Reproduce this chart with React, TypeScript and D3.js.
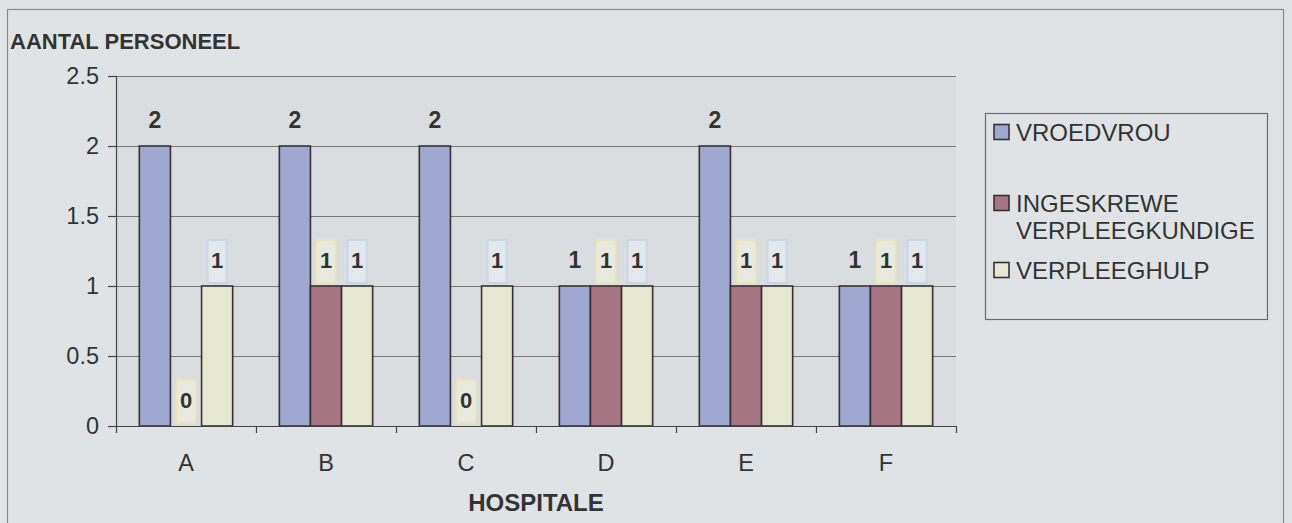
import React from "react";
import * as d3 from "d3";

// Staff per hospital, by staff category
const hospitals = ["A", "B", "C", "D", "E", "F"];
const seriesNames = ["VROEDVROU", "INGESKREWE VERPLEEGKUNDIGE", "VERPLEEGHULP"];
const vroedvrou = [2, 2, 2, 1, 2, 1];
const ingeskrewe = [0, 1, 0, 1, 1, 1];
const verpleeghulp = [1, 1, 1, 1, 1, 1];
const yTicks = [0, 0.5, 1, 1.5, 2, 2.5];
const yTickLabels = ["0", "0.5", "1", "1.5", "2", "2.5"];

const W = 1292;
const H = 523;
const FONT = "'Liberation Sans', Arial, sans-serif";
const TEXT = "#333";

const colors = ["#9ea8d0", "#a67684", "#e6e7d1"];
const labelBoxes = [
  null,
  { fill: "#e8eae0", stroke: "#ece6b4" },
  { fill: "#e4e8ea", stroke: "#c9d7ea" },
];

export default function App() {
  const plot = { left: 116, right: 956, top: 76, bottom: 426 };
  const values = [vroedvrou, ingeskrewe, verpleeghulp];

  const x = d3.scaleBand<string>().domain(hospitals).range([plot.left, plot.right]).padding(0);
  const cw = x.bandwidth();
  const x1 = d3
    .scaleBand<number>()
    .domain([0, 1, 2])
    .range([cw / 6, cw - cw / 6])
    .padding(0);
  const y = d3.scaleLinear().domain([0, 2.5]).range([plot.bottom, plot.top]);

  const legendItems = [
    { lines: ["VROEDVROU"], base: 141 },
    { lines: ["INGESKREWE", "VERPLEEGKUNDIGE"], base: 212 },
    { lines: ["VERPLEEGHULP"], base: 279 },
  ];

  return (
    <div style={{ position: "fixed", left: 0, top: 0, width: W, height: H }}>
      <svg width={W} height={H} style={{ display: "block" }} fontFamily={FONT}>
        <rect x={0} y={0} width={W} height={H} fill="#e0e3e5" />
        {/* outer chart frame */}
        <rect x={7.5} y={9.5} width={1276} height={600} fill="none" stroke="#8a8a8a" strokeWidth={1.2} />

        {/* plot area */}
        <rect
          x={plot.left}
          y={plot.top}
          width={plot.right - plot.left}
          height={plot.bottom - plot.top}
          fill="#dadde0"
        />

        {/* horizontal gridlines */}
        {yTicks.map((t) => (
          <line
            key={"g" + t}
            x1={plot.left}
            x2={plot.right}
            y1={Math.round(y(t)) + 0.5}
            y2={Math.round(y(t)) + 0.5}
            stroke="#5e5e5e"
            strokeWidth={1}
            strokeOpacity={0.8}
          />
        ))}

        {/* y axis */}
        <line x1={plot.left + 0.5} x2={plot.left + 0.5} y1={plot.top} y2={plot.bottom} stroke="#444" strokeWidth={1.2} />
        {yTicks.map((t, i) => (
          <g key={"yt" + t}>
            <line
              x1={plot.left - 8}
              x2={plot.left}
              y1={Math.round(y(t)) + 0.5}
              y2={Math.round(y(t)) + 0.5}
              stroke="#444"
              strokeWidth={1.2}
            />
            <text x={99} y={y(t) + 8} textAnchor="end" fontSize={23.5} fill={TEXT}>
              {yTickLabels[i]}
            </text>
          </g>
        ))}

        {/* bars */}
        {hospitals.map((h, ci) => (
          <g key={"c" + h}>
            {values.map((vals, si) => {
              const v = vals[ci];
              const bx = (x(h) as number) + (x1(si) as number);
              const bw = x1.bandwidth();
              const top = y(v);
              return v > 0 ? (
                <rect
                  key={"b" + si}
                  x={bx}
                  y={top}
                  width={bw}
                  height={y(0) - top}
                  fill={colors[si]}
                  stroke="#3a3034"
                  strokeWidth={1.6}
                />
              ) : null;
            })}
          </g>
        ))}

        {/* x axis */}
        <line x1={plot.left} x2={plot.right} y1={plot.bottom + 0.5} y2={plot.bottom + 0.5} stroke="#444" strokeWidth={1.2} />
        {hospitals.concat(["_end"]).map((h, i) => {
          const tx = plot.left + i * cw;
          return (
            <line key={"xt" + i} x1={tx + 0.5} x2={tx + 0.5} y1={plot.bottom} y2={plot.bottom + 7} stroke="#444" strokeWidth={1.2} />
          );
        })}
        {hospitals.map((h) => (
          <text key={"xl" + h} x={(x(h) as number) + cw / 2} y={471} textAnchor="middle" fontSize={23.5} fill={TEXT}>
            {h}
          </text>
        ))}

        {/* value labels */}
        {hospitals.map((h, ci) => (
          <g key={"l" + h}>
            {values.map((vals, si) => {
              const v = vals[ci];
              const cx = (x(h) as number) + (x1(si) as number) + x1.bandwidth() / 2;
              const base = y(v) - 18;
              const box = labelBoxes[si];
              return (
                <g key={"lab" + si}>
                  {box && (
                    <rect
                      x={cx - 9.5}
                      y={base - 28}
                      width={19}
                      height={43}
                      fill={box.fill}
                      stroke={box.stroke}
                      strokeWidth={2}
                    />
                  )}
                  <text
                    x={cx}
                    y={base}
                    textAnchor="middle"
                    fontSize={si === 0 ? 23 : 22}
                    fontWeight="bold"
                    fill={TEXT}
                  >
                    {v}
                  </text>
                </g>
              );
            })}
          </g>
        ))}

        {/* axis titles */}
        <text x={10} y={49} fontSize={22} fontWeight="bold" fill={TEXT}>
          AANTAL PERSONEEL
        </text>
        <text x={(plot.left + plot.right) / 2} y={511} textAnchor="middle" fontSize={24} fontWeight="bold" fill={TEXT}>
          HOSPITALE
        </text>

        {/* legend */}
        <rect x={985.5} y={113.5} width={282} height={206} fill="none" stroke="#6a6a6a" strokeWidth={1.2} />
        {legendItems.map((item, i) => (
          <g key={"lg" + i}>
            <rect
              x={994}
              y={item.base - 16.5}
              width={15}
              height={15}
              fill={colors[i]}
              stroke="#3a3034"
              strokeWidth={1.6}
            />
            {item.lines.map((ln, j) => (
              <text key={j} x={1016} y={item.base + j * 27} fontSize={24} fill={TEXT}>
                {ln}
              </text>
            ))}
          </g>
        ))}
        <title>{seriesNames.join(", ")}</title>
      </svg>
    </div>
  );
}
